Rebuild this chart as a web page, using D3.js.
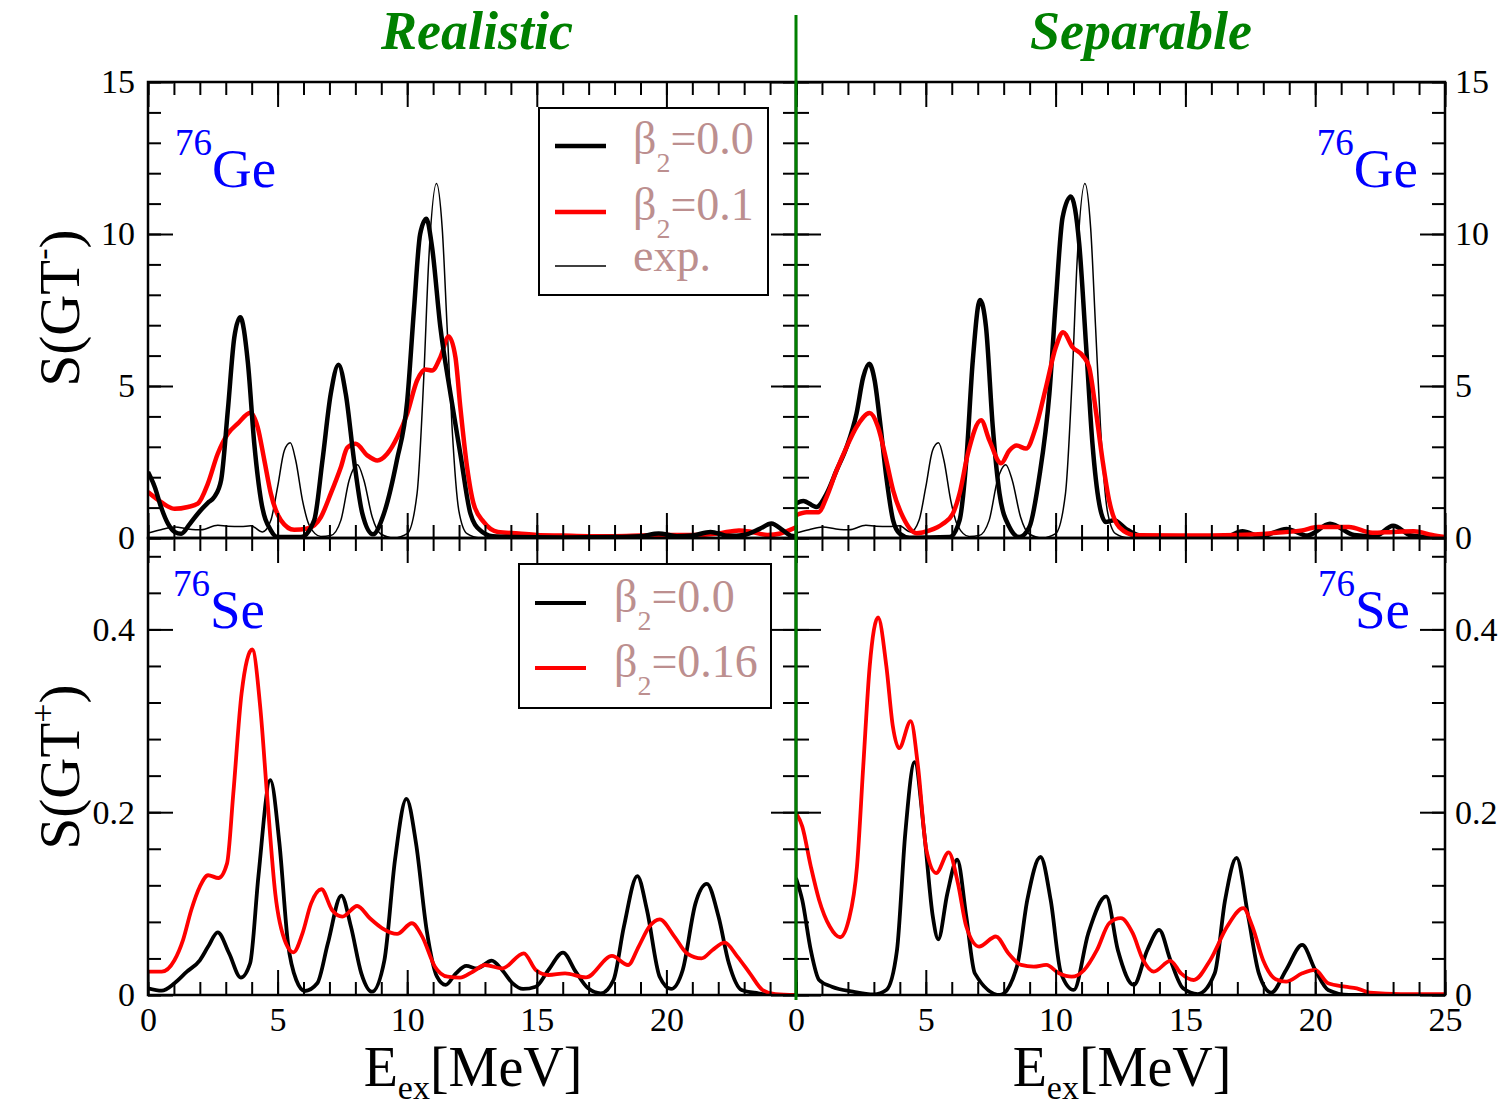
<!DOCTYPE html>
<html>
<head>
<meta charset="utf-8">
<script src="https://cdn.jsdelivr.net/npm/d3@7"></script>
<style>
body { margin: 0; background: #fff; }
text { font-family: 'Liberation Serif', 'Times New Roman', serif; }
</style>
</head>
<body>
<div id="chart-area"></div>
<script>
// 76Ge, S(GT-), realistic force  [E_ex, S]
var geRealB0 = [[0,2.17],[0.26,1.68],[0.51,1.0],[0.77,0.47],[1.03,0.2],[1.28,0.14],[1.6,0.45],[1.92,0.8],[2.3,1.15],[2.56,1.35],[2.82,1.9],[3.08,4.2],[3.33,6.6],[3.56,7.26],[3.85,5.8],[4.1,3.1],[4.36,1.24],[4.74,0.25],[5.0,0.03],[5.9,0.03],[6.41,0.58],[6.73,2.55],[7.05,4.74],[7.35,5.7],[7.63,4.74],[7.95,2.55],[8.27,0.8],[8.68,0.12],[9.1,0.8],[9.6,2.55],[10.0,4.5],[10.26,7.5],[10.5,10.0],[10.74,10.5],[10.96,9.56],[11.28,6.93],[11.67,4.74],[12.05,2.77],[12.44,0.8],[12.82,0.25],[13.3,0.06],[14,0.03],[16,0.02],[18,0.03],[19,0.06],[19.7,0.15],[20.4,0.06],[21,0.08],[21.7,0.2],[22.4,0.07],[23.0,0.1],[23.6,0.3],[24.05,0.48],[24.5,0.25],[24.8,0.08],[25,0.06]];
var geRealB1 = [[0,1.51],[0.51,1.18],[1.03,0.96],[1.54,1.02],[1.92,1.13],[2.31,1.79],[2.69,2.77],[3.08,3.43],[3.46,3.76],[3.95,4.12],[4.23,3.65],[4.49,2.55],[4.74,1.46],[5.13,0.58],[5.64,0.27],[6.15,0.31],[6.67,0.69],[7.05,1.46],[7.44,2.33],[7.69,2.97],[8.01,3.1],[8.46,2.72],[8.85,2.55],[9.23,2.77],[9.62,3.32],[10.0,4.09],[10.38,5.18],[10.7,5.54],[10.96,5.51],[11.28,5.95],[11.6,6.63],[11.86,5.95],[12.05,4.3],[12.31,2.33],[12.56,1.13],[12.95,0.53],[13.5,0.2],[14.3,0.15],[15,0.1],[16,0.08],[17,0.06],[18,0.06],[19,0.08],[20,0.1],[21,0.1],[22,0.15],[22.8,0.25],[23.3,0.2],[23.9,0.1],[24.4,0.15],[25,0.35]];
// 76Ge, S(GT-), separable force
var geSepB0 = [[0,1.13],[0.28,1.22],[0.79,1.02],[1.18,1.46],[1.56,2.22],[1.95,2.99],[2.33,4.09],[2.59,5.29],[2.82,5.73],[3.03,5.18],[3.23,3.87],[3.48,2.0],[3.74,0.58],[4.0,0.14],[4.38,0.01],[5.92,0.03],[6.3,0.58],[6.56,2.55],[6.81,5.84],[7.09,7.83],[7.32,6.93],[7.58,3.65],[7.84,1.46],[8.22,0.36],[8.6,0.03],[8.99,0.36],[9.37,2.0],[9.76,4.74],[10.01,7.81],[10.27,10.55],[10.59,11.23],[10.91,9.67],[11.17,6.39],[11.42,3.1],[11.68,1.13],[11.93,0.53],[12.25,0.58],[12.7,0.31],[13.2,0.09],[14,0.03],[16.5,0.03],[17.2,0.22],[17.9,0.06],[18.9,0.3],[19.7,0.08],[20.57,0.47],[21.5,0.1],[22.3,0.06],[23.0,0.4],[23.7,0.08],[24.5,0.02],[25,0.01]];
var geSepB1 = [[0,0.75],[0.41,0.85],[0.86,0.85],[1.18,1.35],[1.56,2.22],[1.95,2.99],[2.33,3.65],[2.84,4.11],[3.16,3.65],[3.48,2.55],[3.74,1.57],[4.12,0.69],[4.64,0.16],[5.15,0.25],[5.66,0.47],[6.04,0.8],[6.3,1.46],[6.62,2.77],[7.13,3.87],[7.45,3.21],[7.9,2.46],[8.22,2.88],[8.5,3.04],[8.86,2.94],[9.24,3.65],[9.63,4.96],[10.01,6.28],[10.29,6.77],[10.65,6.28],[11.04,6.0],[11.29,5.62],[11.55,4.19],[11.81,2.55],[12.06,1.24],[12.45,0.36],[13.09,0.09],[15,0.08],[17,0.1],[18.5,0.17],[19.5,0.25],[20.1,0.36],[21.3,0.36],[22.2,0.17],[23.0,0.2],[23.8,0.22],[24.5,0.1],[25,0.03]];
// experiment, shown in both upper panels
var geExp = [[0,0.16],[0.5,0.27],[1.03,0.36],[1.54,0.3],[2.05,0.27],[2.69,0.42],[3.08,0.39],[3.59,0.38],[3.97,0.4],[4.42,0.2],[4.74,0.58],[5.0,1.68],[5.26,2.88],[5.49,3.13],[5.7,2.55],[5.96,1.24],[6.22,0.42],[6.67,0.05],[7.05,0.08],[7.44,0.58],[7.76,1.9],[8.08,2.41],[8.33,1.9],[8.65,0.69],[8.97,0.14],[9.49,0],[10.0,0.14],[10.38,1.46],[10.64,5.29],[10.83,9.12],[11.13,11.66],[11.35,10.2],[11.54,6.93],[11.73,3.65],[11.99,0.91],[12.31,0.14],[12.8,0],[25,0]];

// 76Se, S(GT+), realistic force
var seRealB0 = [[0,0.0073],[0.53,0.0047],[1.02,0.0128],[1.5,0.0255],[2.0,0.038],[2.32,0.053],[2.69,0.0686],[3.13,0.0456],[3.58,0.019],[3.94,0.0347],[4.26,0.13],[4.72,0.235],[5.07,0.166],[5.4,0.0566],[5.72,0.0164],[6.05,0.0044],[6.53,0.0128],[6.94,0.0566],[7.46,0.1088],[7.83,0.0748],[8.23,0.0237],[8.64,0.0036],[9.12,0.038],[9.53,0.148],[9.97,0.2146],[10.34,0.166],[10.75,0.0712],[11.15,0.02],[11.48,0.011],[11.88,0.0237],[12.28,0.0318],[12.69,0.029],[13.26,0.0376],[13.66,0.0274],[14.07,0.0128],[14.47,0.0066],[14.96,0.0091],[15.45,0.0274],[16.01,0.0464],[16.5,0.0255],[16.98,0.0073],[17.47,0.0018],[17.96,0.0164],[18.36,0.0748],[18.88,0.13],[19.25,0.093],[19.74,0.02],[20.18,0.0066],[20.63,0.0274],[21.12,0.1],[21.56,0.1215],[22.01,0.0858],[22.41,0.0347],[22.9,0.0055],[23.55,0.0018],[24.0,0],[25,0]];
var seRealB1 = [[0,0.0255],[0.53,0.0255],[1.02,0.038],[1.35,0.06],[1.67,0.093],[2.0,0.1186],[2.32,0.131],[2.72,0.128],[3.05,0.144],[3.29,0.22],[3.61,0.33],[4.02,0.378],[4.34,0.312],[4.59,0.22],[4.91,0.111],[5.32,0.0566],[5.61,0.0467],[5.96,0.0675],[6.29,0.1],[6.69,0.1157],[7.1,0.093],[7.5,0.0858],[8.07,0.0974],[8.56,0.084],[9.04,0.073],[9.61,0.0668],[10.18,0.0785],[10.58,0.0639],[11.07,0.031],[11.56,0.02],[12.04,0.019],[12.53,0.0255],[13.01,0.0328],[13.66,0.029],[14.5,0.0456],[14.96,0.0274],[15.45,0.0219],[16.09,0.0237],[16.9,0.0193],[17.9,0.0427],[18.52,0.0328],[18.93,0.053],[19.34,0.0748],[19.74,0.0828],[20.31,0.0639],[20.79,0.0456],[21.36,0.0401],[21.77,0.049],[22.25,0.0573],[22.74,0.042],[23.22,0.0237],[23.71,0.0055],[24.2,0.001],[25,0]];
// 76Se, S(GT+), separable force
var seSepB0 = [[0,0.128],[0.24,0.104],[0.57,0.049],[0.89,0.0164],[1.38,0.0091],[2.19,0.0037],[3.0,0.0007],[3.48,0.0055],[3.89,0.049],[4.21,0.177],[4.57,0.2547],[4.94,0.177],[5.27,0.0859],[5.48,0.061],[5.83,0.111],[6.21,0.148],[6.56,0.0859],[6.89,0.0237],[7.86,0],[8.51,0.031],[8.91,0.104],[9.42,0.151],[9.81,0.104],[10.21,0.0237],[10.7,0.0055],[11.26,0.0676],[11.95,0.1078],[12.4,0.049],[13.01,0.011],[13.53,0.049],[13.99,0.0712],[14.42,0.0384],[14.91,0.0073],[15.48,0.001],[16.13,0.0237],[16.53,0.104],[16.97,0.15],[17.42,0.0859],[17.83,0.0237],[18.31,0.0026],[18.88,0.0274],[19.5,0.0548],[20.0,0.0274],[20.5,0.0055],[21.3,0],[25,0]];
var seSepB1 = [[0,0.199],[0.24,0.1845],[0.57,0.1407],[0.89,0.104],[1.3,0.0749],[1.7,0.0632],[2.03,0.082],[2.35,0.1407],[2.59,0.25],[2.84,0.36],[3.16,0.413],[3.48,0.36],[3.73,0.294],[3.97,0.27],[4.42,0.2996],[4.7,0.25],[5.02,0.159],[5.4,0.1334],[5.88,0.156],[6.24,0.122],[6.56,0.0749],[7.05,0.053],[7.7,0.064],[8.18,0.0457],[8.67,0.0329],[9.16,0.031],[9.64,0.0329],[10.13,0.0237],[10.62,0.02],[11.1,0.0274],[11.59,0.049],[12.07,0.0786],[12.51,0.084],[12.97,0.0676],[13.37,0.0384],[13.78,0.0256],[14.42,0.0373],[14.83,0.0237],[15.32,0.0164],[15.96,0.0384],[16.61,0.0749],[17.23,0.095],[17.58,0.0749],[17.99,0.0384],[18.48,0.0172],[18.88,0.0146],[19.5,0.0237],[20.0,0.0274],[20.5,0.0128],[21.15,0.0091],[21.6,0.0073],[22.1,0.0026],[23.3,0.001],[25,0.001]];

var xMajor = [0, 5, 10, 15, 20, 25];
var xMinor = d3.range(0, 26, 1);
var yTopMajor = [0, 5, 10, 15];
var yTopMinor = d3.range(0, 16, 1);
var yBotMajor = [0, 0.2, 0.4];
var yBotMinor = d3.range(0, 0.5001, 0.04);
var xLabelsLeft = [0, 5, 10, 15, 20];
var xLabelsRight = [0, 5, 10, 15, 20, 25];

var svg = d3.select('#chart-area').append('svg')
	.attr('width', 1508)
	.attr('height', 1108);

var xs = [
	d3.scaleLinear().domain([0, 25]).range([148, 796]),
	d3.scaleLinear().domain([0, 25]).range([796, 1445])
];
var yTop = d3.scaleLinear().domain([0, 15]).range([538, 82]);
var yBot = d3.scaleLinear().domain([0, 0.5]).range([995, 538]);

var panels = [
	{ x: xs[0], y: yTop, series: [[geExp, 'black', 1.5], [geRealB1, 'red', 4.5], [geRealB0, 'black', 4.5]] },
	{ x: xs[1], y: yTop, series: [[geExp, 'black', 1.5], [geSepB0, 'black', 4.5], [geSepB1, 'red', 4.5]] },
	{ x: xs[0], y: yBot, series: [[seRealB0, 'black', 3.8], [seRealB1, 'red', 3.8]] },
	{ x: xs[1], y: yBot, series: [[seSepB0, 'black', 3.8], [seSepB1, 'red', 3.8]] }
];

function $translate(left, top) {
	return 'translate(' + (left || 0) + ', ' + (top || 0) + ')';
}

function ticks(g, axis, scale, values, size) {
	g.call(axis(scale).tickValues(values).tickSize(size).tickFormat(''));
	g.select('.domain').remove();
	g.selectAll('line').attr('stroke', 'black').attr('stroke-width', 2);
}

function labels(g, axis, scale, values, pad) {
	g.call(axis(scale).tickValues(values).tickSize(0).tickPadding(pad).tickFormat(d => String(d)));
	g.select('.domain').remove();
	g.attr('font-family', null).attr('font-size', 34);
}

panels.forEach((p, i) => {
	var x0 = p.x.range()[0], x1 = p.x.range()[1];
	var y0 = p.y.range()[1], y1 = p.y.range()[0];
	var yMaj = p.y === yTop ? yTopMajor : yBotMajor;
	var yMin = p.y === yTop ? yTopMinor : yBotMinor;

	svg.append('clipPath').attr('id', 'clip' + i)
		.append('rect').attr('x', x0).attr('y', y0).attr('width', x1 - x0).attr('height', y1 - y0);

	var line = d3.line()
		.x(d => p.x(d[0]))
		.y(d => p.y(d[1]))
		.curve(d3.curveMonotoneX);

	p.series.forEach(s => {
		svg.append('path')
			.attr('clip-path', 'url(#clip' + i + ')')
			.attr('d', line(s[0]))
			.attr('fill', 'none')
			.attr('stroke', s[1])
			.attr('stroke-width', s[2])
			.attr('stroke-linejoin', 'round');
	});

	// inward ticks on all four sides
	[[d3.axisBottom, y1], [d3.axisTop, y0]].forEach(a => {
		ticks(svg.append('g').attr('transform', $translate(0, a[1])), a[0], p.x, xMinor, -13);
		ticks(svg.append('g').attr('transform', $translate(0, a[1])), a[0], p.x, xMajor, -25);
	});
	[[d3.axisLeft, x0], [d3.axisRight, x1]].forEach(a => {
		ticks(svg.append('g').attr('transform', $translate(a[1], 0)), a[0], p.y, yMin, -13);
		ticks(svg.append('g').attr('transform', $translate(a[1], 0)), a[0], p.y, yMaj, -25);
	});

	svg.append('rect')
		.attr('x', x0).attr('y', y0)
		.attr('width', x1 - x0).attr('height', y1 - y0)
		.attr('fill', 'none').attr('stroke', 'black').attr('stroke-width', 2.5);
});

// tick labels
labels(svg.append('g').attr('transform', $translate(148, 0)), d3.axisLeft, yTop, yTopMajor, 13);
labels(svg.append('g').attr('transform', $translate(148, 0)), d3.axisLeft, yBot, yBotMajor, 13);
labels(svg.append('g').attr('transform', $translate(1445, 0)), d3.axisRight, yTop, yTopMajor, 10);
labels(svg.append('g').attr('transform', $translate(1445, 0)), d3.axisRight, yBot, yBotMajor, 10);
labels(svg.append('g').attr('transform', $translate(0, 995)), d3.axisBottom, xs[0], xLabelsLeft, 12);
labels(svg.append('g').attr('transform', $translate(0, 995)), d3.axisBottom, xs[1], xLabelsRight, 12);

// green divider
svg.append('line')
	.attr('x1', 796).attr('x2', 796)
	.attr('y1', 15).attr('y2', 1000)
	.attr('stroke', '#008000').attr('stroke-width', 3);

// titles
[['Realistic', 477], ['Separable', 1141]].forEach(t => {
	svg.append('text')
		.attr('x', t[1]).attr('y', 49)
		.attr('text-anchor', 'middle')
		.attr('font-size', 54).attr('font-weight', 'bold').attr('font-style', 'italic')
		.attr('fill', '#008000')
		.text(t[0]);
});

// nucleus labels
function nucleus(xp, yp, el, anchor) {
	var t = svg.append('text').attr('x', xp).attr('y', yp)
		.attr('text-anchor', anchor).attr('fill', 'blue');
	t.append('tspan').attr('font-size', 37).attr('dy', -32).text('76');
	t.append('tspan').attr('font-size', 55).attr('dy', 32).text(el);
}
nucleus(175, 187, 'Ge', 'start');
nucleus(1418, 187, 'Ge', 'end');
nucleus(173, 628, 'Se', 'start');
nucleus(1410, 628, 'Se', 'end');

// axis titles
function yTitle(cy, sign) {
	var t = svg.append('text')
		.attr('transform', $translate(79, cy) + ' rotate(-90)')
		.attr('text-anchor', 'middle')
		.attr('font-size', 57);
	t.append('tspan').text('S(GT');
	t.append('tspan').attr('font-size', 34).attr('dy', -25).text(sign);
	t.append('tspan').attr('dy', 25).text(')');
}
yTitle(308, '-');
yTitle(767, '+');

[473, 1122].forEach(cx => {
	var t = svg.append('text')
		.attr('x', cx).attr('y', 1086)
		.attr('text-anchor', 'middle')
		.attr('font-size', 56);
	t.append('tspan').text('E');
	t.append('tspan').attr('font-size', 34).attr('dy', 13).text('ex');
	t.append('tspan').attr('dy', -13).text('[MeV]');
});

// legends
function legend(box, items) {
	svg.append('rect')
		.attr('x', box[0]).attr('y', box[1])
		.attr('width', box[2]).attr('height', box[3])
		.attr('fill', 'white').attr('stroke', 'black').attr('stroke-width', 2);
	items.forEach(it => {
		svg.append('line')
			.attr('x1', it.x).attr('x2', it.x + 51)
			.attr('y1', it.y).attr('y2', it.y)
			.attr('stroke', it.color).attr('stroke-width', it.w);
		var t = svg.append('text')
			.attr('x', it.tx).attr('y', it.base)
			.attr('font-size', 46).attr('fill', '#bc8f8f');
		if (it.beta === null) {
			t.text(it.label);
		} else {
			t.append('tspan').text('\u03b2');
			t.append('tspan').attr('font-size', 28).attr('dy', 18).text('2');
			t.append('tspan').attr('dy', -18).text('=' + it.beta);
		}
	});
}
legend([539, 108, 229, 187], [
	{ x: 555, y: 146, color: 'black', w: 4.5, tx: 633, base: 154, beta: '0.0' },
	{ x: 555, y: 212, color: 'red', w: 4.5, tx: 633, base: 220, beta: '0.1' },
	{ x: 555, y: 266, color: 'black', w: 1.5, tx: 633, base: 271, beta: null, label: 'exp.' }
]);
legend([519, 564, 252, 144], [
	{ x: 535, y: 603, color: 'black', w: 4, tx: 614, base: 612, beta: '0.0' },
	{ x: 535, y: 668, color: 'red', w: 4, tx: 614, base: 677, beta: '0.16' }
]);
</script>
</body>
</html>
